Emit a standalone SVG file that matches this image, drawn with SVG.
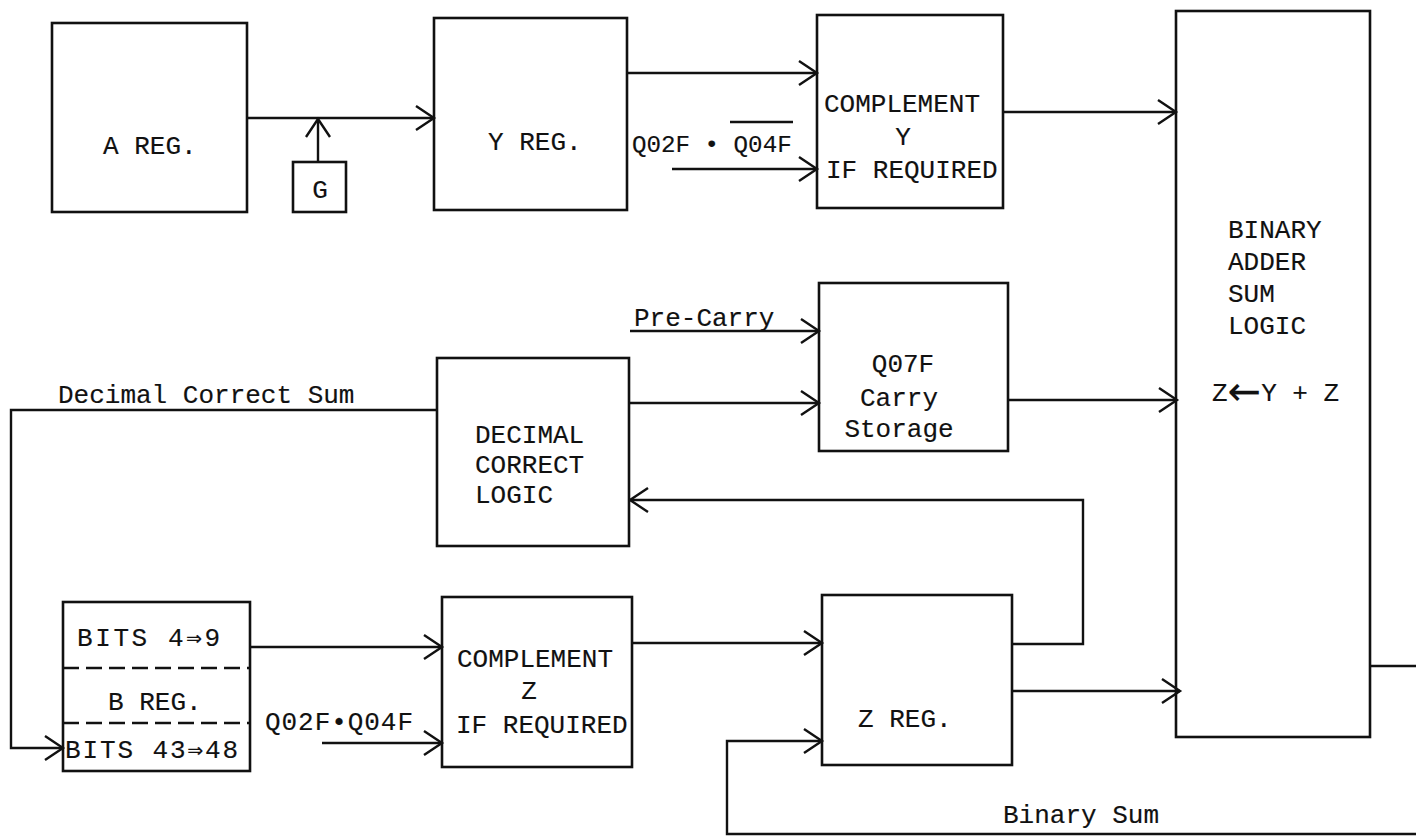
<svg xmlns="http://www.w3.org/2000/svg" width="1416" height="840" viewBox="0 0 1416 840">
<defs>
<style>
.box{fill:none;stroke:#111;stroke-width:2.6}
.ln{fill:none;stroke:#111;stroke-width:2.4}
.arr{fill:none;stroke:#111;stroke-width:2.4;marker-end:url(#ah)}
.dash{fill:none;stroke:#111;stroke-width:2.4;stroke-dasharray:16 7}
.t{font-family:"Liberation Mono","DejaVu Sans Mono",monospace;font-size:26px;fill:#111;stroke:#111;stroke-width:0.15}
.m{text-anchor:middle}
</style>
<marker id="ah" markerUnits="userSpaceOnUse" markerWidth="24" markerHeight="28" refX="20" refY="14" orient="auto" overflow="visible">
<path d="M2,2 L20,14 L2,26" fill="none" stroke="#111" stroke-width="2.4"/>
</marker>
</defs>
<rect width="1416" height="840" fill="#fff"/>

<g id="connectors">
<line class="arr" x1="247" y1="118" x2="434" y2="118"/>
<line class="arr" x1="318" y1="162" x2="318" y2="119"/>
<line class="arr" x1="627" y1="73" x2="817" y2="73"/>
<line class="arr" x1="672" y1="169" x2="817" y2="169"/>
<line class="arr" x1="1003" y1="112" x2="1176" y2="112"/>
<line class="arr" x1="630" y1="331" x2="819" y2="331"/>
<line class="arr" x1="629" y1="403" x2="819" y2="403"/>
<line class="arr" x1="1008" y1="400" x2="1177" y2="400"/>
<polyline class="arr" points="437,410 11,410 11,748 63,748"/>
<polyline class="arr" points="1012,644 1083,644 1083,500 630,500"/>
<line class="arr" x1="250" y1="647" x2="442" y2="647"/>
<line class="arr" x1="322" y1="743" x2="442" y2="743"/>
<line class="arr" x1="632" y1="643" x2="822" y2="643"/>
<line class="arr" x1="1012" y1="691" x2="1180" y2="691"/>
<polyline class="arr" points="1416,834 727,834 727,741 822,741"/>
<line class="ln" x1="1371" y1="666" x2="1416" y2="666"/>
<line class="ln" x1="730" y1="122" x2="793" y2="122"/>
<text class="t" x="632" y="152" style="font-size:24.2px">Q02F • Q04F</text>
<text class="t" x="265" y="730" textLength="148">Q02F•Q04F</text>
<text class="t" x="634" y="326">Pre-Carry</text>
<text class="t" x="58" y="403">Decimal Correct Sum</text>
<text class="t" x="1003" y="823">Binary Sum</text>
</g>

<g id="a-reg">
<rect class="box" x="52" y="23" width="195" height="189"/>
<text class="t" x="103" y="154">A REG.</text>
</g>

<g id="g-box">
<rect class="box" x="293" y="162" width="53" height="50"/>
<text class="t m" x="320" y="198">G</text>
</g>

<g id="y-reg">
<rect class="box" x="434" y="18" width="193" height="192"/>
<text class="t" x="488" y="150">Y REG.</text>
</g>

<g id="complement-y">
<rect class="box" x="817" y="15" width="186" height="193"/>
<text class="t" x="824" y="112">COMPLEMENT</text>
<text class="t m" x="903" y="145">Y</text>
<text class="t" x="826" y="178">IF REQUIRED</text>
</g>

<g id="binary-adder">
<rect class="box" x="1176" y="11" width="194" height="726"/>
<text class="t" x="1228" y="238">BINARY</text>
<text class="t" x="1228" y="270">ADDER</text>
<text class="t" x="1228" y="302">SUM</text>
<text class="t" x="1228" y="334">LOGIC</text>
<text class="t" x="1212" y="401">Z<tspan style="font-family:'DejaVu Sans',sans-serif;font-size:40px;stroke-width:0.1" dy="4">←</tspan><tspan dy="-4">Y + Z</tspan></text>
</g>

<g id="q07f">
<rect class="box" x="819" y="283" width="189" height="168"/>
<text class="t m" x="903" y="372">Q07F</text>
<text class="t m" x="899" y="406">Carry</text>
<text class="t m" x="899" y="437">Storage</text>
</g>

<g id="decimal-correct">
<rect class="box" x="437" y="358" width="192" height="188"/>
<text class="t" x="475" y="443">DECIMAL</text>
<text class="t" x="475" y="473">CORRECT</text>
<text class="t" x="475" y="503">LOGIC</text>
</g>

<g id="b-reg">
<rect class="box" x="63" y="602" width="187" height="169"/>
<line class="dash" x1="63" y1="668" x2="250" y2="668"/>
<line class="dash" x1="63" y1="723" x2="250" y2="723"/>
<text class="t" x="77" y="646" textLength="143">BITS 4⇒9</text>
<text class="t" x="108" y="710">B REG.</text>
<text class="t" x="65" y="758" textLength="173">BITS 43⇒48</text>
</g>

<g id="complement-z">
<rect class="box" x="442" y="597" width="190" height="170"/>
<text class="t" x="457" y="667">COMPLEMENT</text>
<text class="t m" x="529" y="699">Z</text>
<text class="t" x="456" y="733">IF REQUIRED</text>
</g>

<g id="z-reg">
<rect class="box" x="822" y="595" width="190" height="170"/>
<text class="t" x="858" y="727">Z REG.</text>
</g>
</svg>
